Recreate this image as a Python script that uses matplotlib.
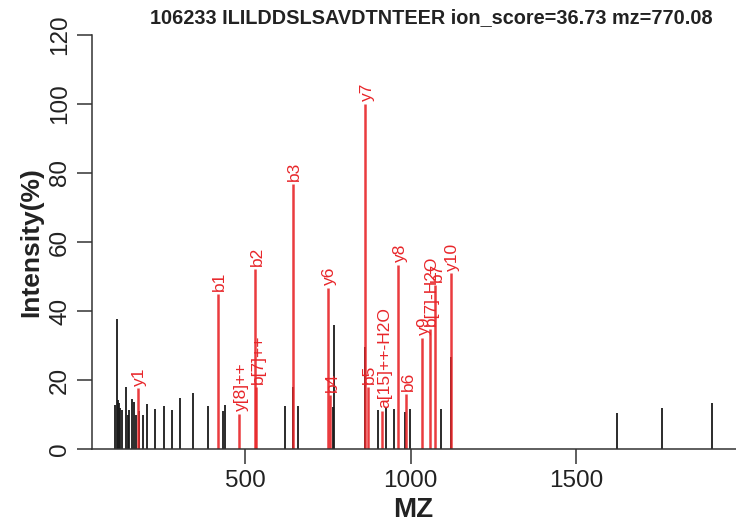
import matplotlib
matplotlib.use("Agg")
import matplotlib.pyplot as plt

plt.rcParams['font.family'] = ['Liberation Sans', 'DejaVu Sans']

title = "106233 ILILDDSLSAVDTNTEER ion_score=36.73 mz=770.08"

# unmatched peaks (black)
black_mz = [107.3, 112.1, 115.1, 118.1, 122.4, 127.2, 139.3, 145.3, 149.5, 157.4,
            164.6, 169.5, 180.7, 191.8, 204.8, 228.1, 254.1, 278.3, 304.5, 343.8,
            389.0, 432.0, 440.5, 619.6, 643.8, 661.0, 764.7, 769.8, 863.4, 902.7,
            926.0, 951.0, 982.0, 998.5, 1090.0, 1121.0, 1623.8, 1759.8, 1908.7]
black_int = [12.8, 37.6, 14.2, 13.2, 11.8, 11.3, 17.9, 10.0, 11.3, 14.6,
             13.7, 9.8, 11.0, 9.8, 13.0, 11.6, 12.4, 11.3, 14.7, 16.3,
             12.5, 11.1, 12.8, 12.5, 18.0, 12.5, 12.3, 35.9, 29.6, 11.3,
             12.3, 11.5, 10.8, 11.5, 11.5, 26.8, 10.3, 11.8, 13.4]

# matched ions (red)
ion_labels = ["y1", "b1", "y[8]++", "b2", "b[7]++", "b3", "y6", "b4", "y7", "b5",
              "a[15]++-H2O", "y8", "b6", "y9", "b[7]-H2O", "b7", "y10"]
ion_mz = [175.5, 417.2, 482.0, 529.6, 534.0, 643.8, 749.6, 756.8, 863.4, 870.4,
          914.8, 963.0, 987.0, 1034.7, 1056.8, 1074.0, 1121.0]
ion_int = [17.6, 44.9, 10.1, 52.2, 17.9, 76.8, 46.6, 15.6, 100.0, 18.1,
           11.0, 53.3, 15.9, 32.1, 34.8, 47.5, 50.9]

yticks = [0, 20, 40, 60, 80, 100, 120]
xticks = [500, 1000, 1500]

W, H = 736, 529
fig = plt.figure(figsize=(W / 100, H / 100), dpi=100)
ax = fig.add_axes([92 / W, (H - 449) / H, (736 - 92) / W, (449 - 35) / H])

red = '#E8262A'
ax.vlines(black_mz, 0, black_int, color='#1a1a1a', lw=1.3)
ax.vlines(ion_mz, 0, ion_int, color=red, lw=1.8, alpha=0.9)
for lab, x, y in zip(ion_labels, ion_mz, ion_int):
    ax.annotate(lab, (x, y), xytext=(1.5, 2), textcoords='offset points',
                rotation=90, ha='center', va='bottom', color=red,
                fontsize=12.5, clip_on=False)

ax.set_xlim(38, 1982)
ax.set_ylim(0, 120)
ax.spines['top'].set_visible(False)
ax.spines['right'].set_visible(False)
for s in ('left', 'bottom'):
    ax.spines[s].set_linewidth(1.1)
    ax.spines[s].set_color('#333333')
ax.set_xticks(xticks)
ax.set_yticks(yticks)
ax.tick_params(axis='both', length=11, width=1.1, color='#333333',
               labelsize=17.5, labelcolor='#222222', pad=4)
plt.setp(ax.get_yticklabels(), rotation=90, va='center')

fig.text(431 / W, 1 - 18 / H, title, ha='center', va='center',
         fontsize=14.3, fontweight='bold', color='#222222')
fig.text(413 / W, 1 - 510 / H, "MZ", ha='center', va='center',
         fontsize=20, fontweight='bold', color='#222222')
fig.text(31 / W, 1 - 242 / H, "Intensity(%)", ha='center', va='center',
         rotation=90, fontsize=19, fontweight='bold', color='#222222')

fig.savefig("out.png", dpi=100)
